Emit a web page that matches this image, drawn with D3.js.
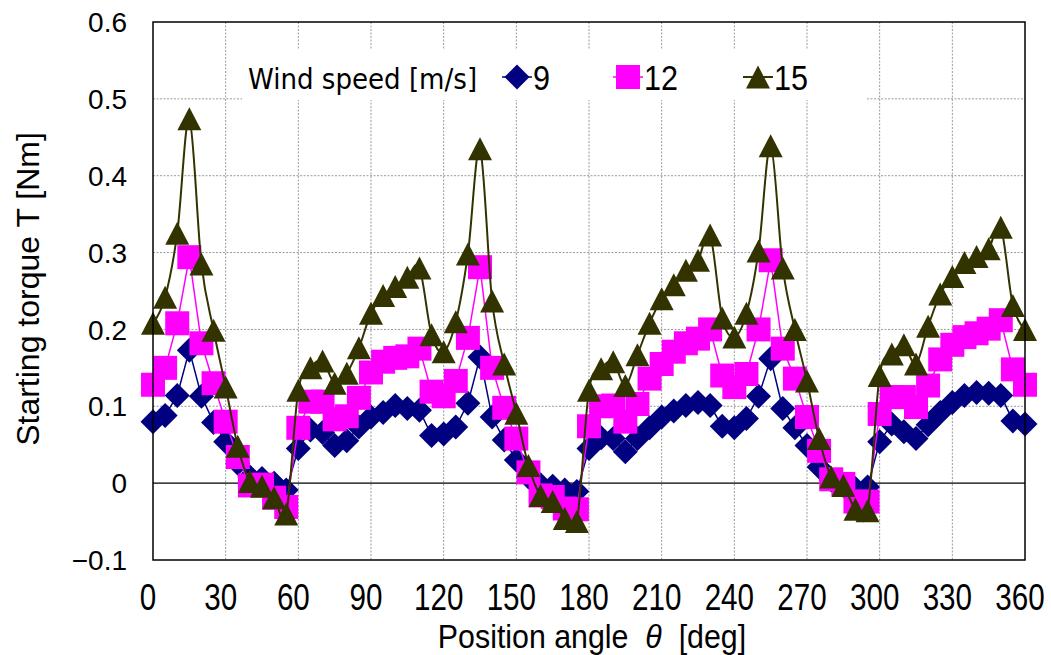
<!DOCTYPE html>
<html><head><meta charset="utf-8">
<script src="https://cdn.jsdelivr.net/npm/d3@7"></script>
<style>body{margin:0;background:#fff}</style>
</head><body><svg id="c" width="1051" height="655"></svg>
<script>
// ---- data ----
const angles = [0,5,10,15,20,25,30,35,40,45,50,55,
  60,65,70,75,80,85,90,95,100,105,110,115,
  120,125,130,135,140,145,150,155,160,165,170,175,
  180,185,190,195,200,205,210,215,220,225,230,235,
  240,245,250,255,260,265,270,275,280,285,290,295,
  300,305,310,315,320,325,330,335,340,345,350,355,360];
const ws9 = [0.080,0.088,0.114,0.173,0.113,0.079,0.054,0.026,0.008,0.006,0.000,-0.009,
  0.045,0.069,0.066,0.049,0.055,0.073,0.086,0.092,0.101,0.097,0.095,0.062,
  0.064,0.073,0.104,0.164,0.086,0.056,0.030,0.008,-0.002,-0.004,-0.009,-0.011,
  0.045,0.059,0.058,0.041,0.058,0.072,0.086,0.094,0.101,0.105,0.101,0.074,
  0.072,0.084,0.113,0.162,0.097,0.072,0.049,0.021,0.004,-0.003,-0.007,-0.005,
  0.054,0.077,0.067,0.058,0.076,0.092,0.105,0.114,0.118,0.117,0.114,0.081,0.077];
const ws12 = [0.128,0.150,0.208,0.294,0.182,0.130,0.080,0.034,-0.003,-0.002,-0.019,-0.031,
  0.072,0.106,0.106,0.083,0.087,0.111,0.144,0.158,0.163,0.165,0.175,0.119,
  0.113,0.133,0.189,0.281,0.150,0.098,0.058,0.014,-0.016,-0.018,-0.033,-0.034,
  0.074,0.100,0.101,0.080,0.103,0.136,0.155,0.171,0.182,0.188,0.200,0.140,
  0.125,0.142,0.200,0.290,0.175,0.136,0.086,0.042,0.005,-0.001,-0.024,-0.024,
  0.090,0.112,0.112,0.099,0.127,0.161,0.180,0.190,0.195,0.201,0.212,0.148,0.128];
const ws15 = [0.208,0.242,0.325,0.474,0.285,0.199,0.125,0.048,0.002,-0.004,-0.019,-0.040,
  0.121,0.150,0.159,0.130,0.143,0.176,0.221,0.244,0.256,0.268,0.280,0.193,
  0.171,0.210,0.298,0.435,0.237,0.155,0.091,0.023,-0.016,-0.024,-0.046,-0.050,
  0.121,0.149,0.158,0.127,0.167,0.208,0.240,0.258,0.277,0.290,0.323,0.215,
  0.190,0.221,0.302,0.439,0.280,0.200,0.133,0.058,0.008,-0.003,-0.034,-0.036,
  0.140,0.168,0.180,0.155,0.204,0.246,0.269,0.287,0.295,0.305,0.333,0.231,0.200];
const seriesNames = ["9","12","15"];
const xTicks = [0,30,60,90,120,150,180,210,240,270,300,330,360];
const xTickLabels = ["0","30","60","90","120","150","180","210","240","270","300","330","360"];
const yTicks = [-0.1,0,0.1,0.2,0.3,0.4,0.5,0.6];
const yTickLabels = ["\u22120.1","0","0.1","0.2","0.3","0.4","0.5","0.6"];

// ---- chart ----
const svg = d3.select("#c");
const x = d3.scaleLinear().domain([0,360]).range([153,1025]);
const y = d3.scaleLinear().domain([-0.1,0.6]).range([560,22]);
const SANS = "'Liberation Sans',Arial,sans-serif";
const COND = "'DejaVu Sans Condensed','DejaVu Sans',sans-serif";

const series = [
  {name:seriesNames[0], values:ws9, color:"#000080", shape:"diamond", lw:1.5, curve:d3.curveLinear},
  {name:seriesNames[1], values:ws12, color:"#FF00FF", shape:"square", lw:1.5, curve:d3.curveLinear},
  {name:seriesNames[2], values:ws15, color:"#333300", shape:"triangle", lw:2, curve:d3.curveCardinal.tension(0)}
];
const shapes = {
  diamond: "M0,-12.5L12.5,0L0,12.5L-12.5,0Z",
  square: "M-12,-12H12V12H-12Z",
  triangle: "M0,-11.5L12,11.5L-12,11.5Z"
};

// gridlines
const grid = svg.append("g");
grid.selectAll(".hg").data(yTicks.filter(v => v > 0 && v < 0.6)).join("line")
  .attr("x1", x(0)).attr("x2", x(360)).attr("y1", d => y(d)).attr("y2", d => y(d))
  .attr("stroke", "#9a9a9a").attr("stroke-width", 1).attr("stroke-dasharray", "2,1.5");
grid.selectAll(".vg").data(xTicks.filter(v => v > 0 && v < 360)).join("line")
  .attr("y1", y(0.6)).attr("y2", y(-0.1)).attr("x1", d => x(d)).attr("x2", d => x(d))
  .attr("stroke", "#9a9a9a").attr("stroke-width", 1).attr("stroke-dasharray", "2,1.5");
// zero line
svg.append("line").attr("x1", x(0)).attr("x2", x(360)).attr("y1", y(0)).attr("y2", y(0))
  .attr("stroke", "#000").attr("stroke-width", 1.2);

// series
series.forEach(s => {
  const pts = angles.map((a, i) => ({a, v: s.values[i]}));
  svg.append("path").datum(pts)
    .attr("fill", "none").attr("stroke", s.color).attr("stroke-width", s.lw)
    .attr("d", d3.line().x(d => x(d.a)).y(d => y(d.v)).curve(s.curve));
  svg.append("g").selectAll("path").data(pts).join("path")
    .attr("transform", d => `translate(${x(d.a)},${y(d.v)})`)
    .attr("d", shapes[s.shape]).attr("fill", s.color);
});

// frame
svg.append("rect").attr("x", x(0)).attr("y", y(0.6)).attr("width", x(360) - x(0)).attr("height", y(-0.1) - y(0.6))
  .attr("fill", "none").attr("stroke", "#000").attr("stroke-width", 1.5);

// legend
const lg = svg.append("g");
lg.append("rect").attr("x", 242).attr("y", 50).attr("width", 625).attr("height", 50).attr("fill", "#fff");
lg.append("text").attr("x", 248).attr("y", 89).text("Wind speed [m/s]")
  .attr("font-family", COND).attr("font-size", 29);
const lgPos = [517, 628, 758];
series.forEach((s, i) => {
  const cx = lgPos[i], cy = 77;
  lg.append("line").attr("x1", cx - 15).attr("x2", cx + 15).attr("y1", cy).attr("y2", cy)
    .attr("stroke", s.color).attr("stroke-width", s.lw);
  lg.append("path").attr("transform", `translate(${cx},${cy})`).attr("d", shapes[s.shape]).attr("fill", s.color);
  lg.append("text").attr("transform", `translate(${cx + 16},90) scale(0.85,1)`).text(s.name)
    .attr("font-family", SANS).attr("font-size", 36);
});

// y tick labels
svg.append("g").selectAll("text").data(yTicks).join("text")
  .attr("x", 127).attr("y", d => y(d)).attr("dy", "0.36em").attr("text-anchor", "end")
  .attr("font-family", SANS).attr("font-size", 28)
  .text((d, i) => yTickLabels[i]);
// x tick labels
svg.append("g").selectAll("text").data(xTicks).join("text")
  .attr("transform", d => `translate(${x(d) - 5},610) scale(0.8,1)`).attr("text-anchor", "middle")
  .attr("font-family", SANS).attr("font-size", 37)
  .text((d, i) => xTickLabels[i]);

// axis titles
svg.append("text").attr("transform", "translate(39,289) rotate(-90)").attr("text-anchor", "middle")
  .attr("font-family", SANS).attr("font-size", 32)
  .text("Starting torque T [Nm]");
const xt = svg.append("text").attr("transform", "translate(592,648) scale(0.92,1)").attr("text-anchor", "middle")
  .attr("font-family", SANS).attr("font-size", 33);
xt.append("tspan").text("Position angle\u00A0\u00A0");
xt.append("tspan").attr("font-style", "italic").text("\u03B8");
xt.append("tspan").text("\u00A0\u00A0[deg]");
</script></body></html>
